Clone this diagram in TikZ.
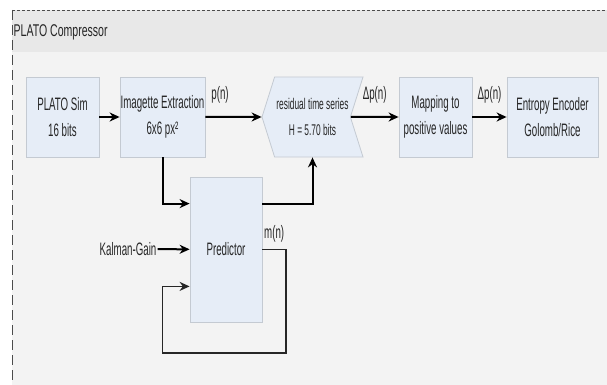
\documentclass[tikz,border=0pt]{standalone}
\usepackage{fontspec}
\setmainfont[FakeStretch=0.54]{Liberation Sans}
\newfontfamily\titlefont[FakeStretch=0.62]{Liberation Sans}
\usetikzlibrary{shapes.symbols,arrows.meta}
\definecolor{boxfill}{HTML}{E6EDF7}
\definecolor{boxline}{HTML}{C4CAD2}
\definecolor{panel}{HTML}{F3F3F3}
\definecolor{titleband}{HTML}{E8E8E8}
\definecolor{txt}{HTML}{262626}

\begin{document}
\begin{tikzpicture}[x=1pt,y=-1pt,
    block/.style={draw=boxline,fill=boxfill,line width=0.8pt,align=center,text=txt,
      font=\fontsize{18}{25.5}\selectfont,inner sep=0pt,minimum height=80pt},
    lbl/.style={text=txt,font=\fontsize{18}{20}\selectfont,inner sep=1pt},
    >={Stealth[length=10pt,width=9pt]},
    flow/.style={->,line width=2pt},
    fb/.style={line width=1.8pt,draw=black!85}]
            \useasboundingbox (0,0) rectangle (607,385);
            \fill[white] (0,0) rectangle (607,385);
            \fill[panel] (12,10) rectangle (607,385);
            \fill[titleband] (12,10) rectangle (607,52);
            \draw[black!70,line width=0.8pt,dash pattern=on 3pt off 2pt] (12,10) -- (607,10);
            \draw[black!70,line width=0.8pt,dash pattern=on 10pt off 5pt] (12,10) -- (12,385);

            \node[lbl,anchor=west,font=\titlefont\fontsize{17}{20}\selectfont] (title) at (12.5,32) {PLATO Compressor};

            \node[block,minimum width=73pt] (sim) at (62.5,117) {PLATO Sim\\16 bits};
            \node[block,minimum width=85pt] (img) at (162.5,117) {Imagette Extraction\\6x6 px²};
            \node[block,shape=signal,signal to=west,signal from=east,signal pointer angle=145,
              minimum width=101pt,font=\fontsize{15.5}{25.5}\selectfont] (res) at (312.5,117) {residual time series\\H = 5.70 bits};
            \node[block,minimum width=73pt] (map) at (435.5,117) {Mapping to\\positive values};
            \node[block,minimum width=91pt] (enc) at (552.5,117) {Entropy Encoder\\Golomb/Rice};
            \node[block,minimum width=72pt,minimum height=145pt] (pred) at (226,249.5) {Predictor};
            \node[lbl] (kal) at (128,249) {Kalman-Gain};
            \coordinate (loop) at (286,353);

            \draw[flow] (sim) edge (img);
            \draw[flow] (img) edge node[lbl,pos=0,anchor=south west,xshift=4pt,yshift=12pt] {p(n)} (res);
            \draw[flow] (res) edge node[lbl,above=12pt] {Δp(n)} (map);
            \draw[flow] (map) edge node[lbl,above=12pt] {Δp(n)} (enc);
            \draw[flow] (kal) edge (pred);

            \draw[flow] (img.south) |- ([yshift=-27pt]pred.north west);
            \draw[flow] ([yshift=-27pt]pred.north east) -| (res.south);
            \draw[flow,fb] (pred.east) -- node[lbl,above=5pt] {m(n)} (pred.east -| loop) -- (loop)
              -- (loop -| img.south) |- ([yshift=36pt]pred.south west);
        \end{tikzpicture}
\end{document}
